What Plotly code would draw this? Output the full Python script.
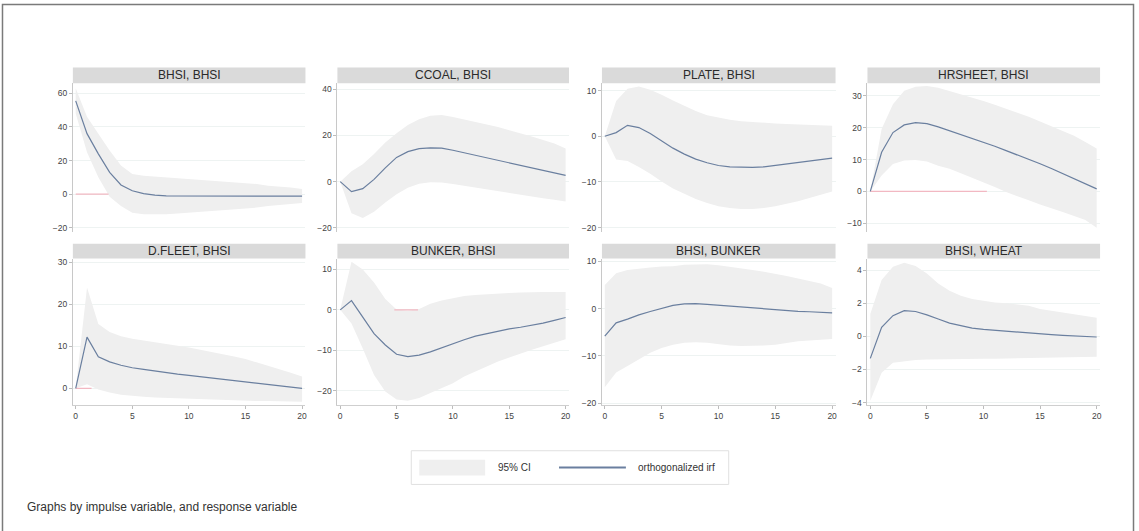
import plotly.graph_objects as go

# Impulse-response functions, horizon 0..20 steps
steps = list(range(21))

panel_titles = [
    "BHSI, BHSI", "CCOAL, BHSI", "PLATE, BHSI", "HRSHEET, BHSI",
    "D.FLEET, BHSI", "BUNKER, BHSI", "BHSI, BUNKER", "BHSI, WHEAT",
]

irf_bhsi_bhsi = [55.5, 36, 24, 13, 5.5, 2, 0.3, -0.6, -1, -1, -1, -0.8, -0.8, -0.9, -1, -1, -1.1, -1.2, -1.2, -1.2, -1.2]
lo_bhsi_bhsi = [48, 25, 10, -1.5, -7, -11, -12, -12, -12, -11.5, -11, -10.5, -10, -9.5, -9, -8.5, -8, -7, -6.5, -6, -5.2]
hi_bhsi_bhsi = [63, 46, 36, 26, 17, 12, 11, 10.5, 10, 9.5, 9, 8.5, 8, 7.5, 7, 6.5, 6, 5, 4.5, 4, 3]

irf_ccoal = [0, -4.3, -3, 1, 6, 10.5, 13, 14.3, 14.6, 14.5, 13.6, 12.5, 11.4, 10.3, 9.2, 8.1, 7.0, 6.0, 4.9, 3.8, 2.7]
lo_ccoal = [0, -13.7, -15.7, -13, -9, -5.4, -2.6, -0.9, -0.2, -0.4, -1, -1.8, -2.6, -3.5, -4.3, -5, -5.8, -6.5, -7.2, -7.8, -8.6]
hi_ccoal = [0, 4.5, 7.5, 12, 17, 21, 24.5, 27, 28.5, 28.8, 28, 27, 26, 25, 23.7, 22.3, 21, 19.5, 18, 16.5, 14.4]

irf_plate = [0, 0.8, 2.4, 1.9, 0.6, -1, -2.6, -3.9, -5, -5.8, -6.4, -6.7, -6.8, -6.8, -6.7, -6.4, -6.1, -5.8, -5.5, -5.1, -4.8]
lo_plate = [0, -5.1, -5.4, -6.7, -8.2, -9.9, -11.4, -12.6, -13.7, -14.6, -15.3, -15.7, -15.9, -15.9, -15.7, -15.3, -14.8, -14.2, -13.5, -12.8, -12.1]
hi_plate = [0, 7.7, 10.4, 10.9, 10.2, 9.1, 7.8, 6.6, 5.5, 4.6, 4.1, 3.6, 3.3, 3.1, 2.9, 2.8, 2.7, 2.6, 2.5, 2.4, 2.3]

irf_hrsheet = [0, 12.3, 18.5, 20.9, 21.6, 21.3, 20.3, 19.1, 17.8, 16.7, 15.4, 14.2, 12.8, 11.5, 10.1, 8.7, 7.2, 5.6, 4.0, 2.4, 0.8]
lo_hrsheet = [0, 5, 8.6, 9.7, 9.9, 9.4, 8.1, 7.1, 5.7, 4.3, 2.9, 1.4, -0.2, -1.6, -2.8, -4.1, -5.2, -6.5, -7.7, -9, -11.4]
hi_hrsheet = [0, 19.6, 27.4, 31.6, 32.9, 33.1, 32.6, 31.6, 30.5, 29.5, 28.4, 27.2, 26, 24.8, 23.5, 22, 20.5, 19, 17.5, 15.5, 13.5]

irf_dfleet = [0, 12.2, 7.5, 6.3, 5.5, 4.9, 4.5, 4.1, 3.8, 3.4, 3.1, 2.8, 2.5, 2.2, 1.9, 1.6, 1.3, 1.0, 0.7, 0.3, 0]
lo_dfleet = [0, 1.0, -0.3, -1.0, -1.5, -1.8, -2.0, -2.2, -2.3, -2.4, -2.5, -2.6, -2.7, -2.8, -2.8, -2.9, -3.0, -3.0, -3.1, -3.1, -3.2]
hi_dfleet = [0, 24, 15.3, 13.4, 12.4, 11.8, 11.4, 11, 10.5, 10.1, 9.7, 9.2, 8.7, 8.2, 7.6, 7, 6.2, 5.4, 4.6, 3.7, 2.8]

irf_bunker = [0, 2.3, -1.8, -5.9, -8.7, -11, -11.6, -11.2, -10.4, -9.4, -8.3, -7.4, -6.5, -5.9, -5.3, -4.7, -4.3, -3.8, -3.3, -2.6, -1.9]
lo_bunker = [0, -3.4, -9.6, -16.1, -20.2, -22.2, -22.5, -21.8, -20.6, -19.4, -18.2, -16.5, -15.2, -14, -12.8, -11.8, -10.8, -9.9, -9.0, -8.2, -7.3]
hi_bunker = [0, 11.9, 10, 6.8, 2.7, 0.1, -0.2, 0.2, 1.5, 2.3, 2.9, 3.4, 3.7, 3.9, 4.1, 4.2, 4.3, 4.4, 4.4, 4.4, 4.4]

irf_bhsi_bunker = [-5.8, -3, -2.2, -1.3, -0.6, 0.1, 0.7, 1.0, 1.05, 0.9, 0.7, 0.5, 0.3, 0.1, -0.1, -0.3, -0.4, -0.55, -0.65, -0.7, -0.9]
lo_bhsi_bunker = [-16.6, -13.5, -12.1, -10.7, -9.3, -8.3, -7.6, -7.2, -7.1, -7.2, -7.5, -7.8, -7.9, -7.9, -7.8, -7.6, -7.2, -6.9, -6.7, -6.5, -6.4]
hi_bhsi_bunker = [5, 7.5, 8.2, 8.5, 8.7, 8.9, 9, 9.3, 9.4, 9.4, 9.2, 8.9, 8.6, 8.2, 7.8, 7.4, 6.9, 6.4, 5.9, 5.3, 4.4]

irf_wheat = [-1.33, 0.55, 1.25, 1.55, 1.5, 1.3, 1.05, 0.8, 0.65, 0.5, 0.42, 0.36, 0.3, 0.24, 0.18, 0.14, 0.1, 0.06, 0.04, 0.02, -0.04]
lo_wheat = [-3.9, -2.2, -1.6, -1.5, -1.43, -1.4, -1.4, -1.39, -1.38, -1.37, -1.36, -1.35, -1.34, -1.33, -1.32, -1.31, -1.3, -1.29, -1.28, -1.26, -1.24]
hi_wheat = [1.35, 3.4, 4.2, 4.45, 4.25, 3.8, 3.2, 2.75, 2.45, 2.25, 2.15, 2.05, 2.0, 1.93, 1.85, 1.65, 1.55, 1.45, 1.35, 1.25, 1.12]

irf_series = [irf_bhsi_bhsi, irf_ccoal, irf_plate, irf_hrsheet, irf_dfleet, irf_bunker, irf_bhsi_bunker, irf_wheat]
ci_lower = [lo_bhsi_bhsi, lo_ccoal, lo_plate, lo_hrsheet, lo_dfleet, lo_bunker, lo_bhsi_bunker, lo_wheat]
ci_upper = [hi_bhsi_bhsi, hi_ccoal, hi_plate, hi_hrsheet, hi_dfleet, hi_bunker, hi_bhsi_bunker, hi_wheat]

# Visible stretch of the zero reference line (start step, end step); None where absent
zero_span = [(0, 2.9), None, None, (0, 10.3), (0, 1.4), (4.8, 6.9), None, None]

y_ticks = [
    [-20, 0, 20, 40, 60], [-20, 0, 20, 40], [-20, -10, 0, 10], [-10, 0, 10, 20, 30],
    [0, 10, 20, 30], [-20, -10, 0, 10], [-20, -10, 0, 10], [-4, -2, 0, 2, 4],
]
y_ranges = [
    [-22.4, 66], [-21.7, 42.6], [-20.9, 11.6], [-12.7, 34],
    [-4.0, 30.9], [-23.6, 12.7], [-20.4, 10.6], [-4.16, 4.7],
]
x_ticks = [0, 5, 10, 15, 20]

W, H = 1139, 531
col_px = [(73, 306), (338, 570), (603, 837), (869, 1102)]
row_px = [(82, 232), (259, 407)]
strip_px = [(66, 82), (244, 259)]

BAND = "#efefef"
LINE = "#6a7f9f"
STRIP = "#dadada"
FONT = "Liberation Sans, Arial, sans-serif"

fig = go.Figure()
layout = {}
shapes = []
annotations = []

for i in range(8):
    r, c = divmod(i, 4)
    n = i + 1
    xa = "x" if n == 1 else f"x{n}"
    ya = "y" if n == 1 else f"y{n}"
    x0p, x1p = col_px[c]
    y0p, y1p = row_px[r]

    fig.add_trace(go.Scatter(x=steps, y=ci_lower[i], mode="lines", line=dict(width=0, color=BAND),
                             showlegend=False, hoverinfo="skip", xaxis=xa, yaxis=ya))
    fig.add_trace(go.Scatter(x=steps, y=ci_upper[i], mode="lines", line=dict(width=0, color=BAND),
                             fill="tonexty", fillcolor=BAND, showlegend=False, xaxis=xa, yaxis=ya))
    if zero_span[i] is not None:
        fig.add_trace(go.Scatter(x=list(zero_span[i]), y=[0, 0], mode="lines",
                                 line=dict(width=1.3, color="#f2b8c2"), showlegend=False,
                                 hoverinfo="skip", xaxis=xa, yaxis=ya))
    fig.add_trace(go.Scatter(x=steps, y=irf_series[i], mode="lines", line=dict(width=1.2, color=LINE),
                             showlegend=False, xaxis=xa, yaxis=ya))

    xkey = "xaxis" if n == 1 else f"xaxis{n}"
    ykey = "yaxis" if n == 1 else f"yaxis{n}"
    bottom = r == 1
    layout[xkey] = dict(
        domain=[x0p / W, x1p / W], anchor=ya, range=[-0.25, 20.3],
        tickvals=x_ticks if bottom else [], showticklabels=bottom,
        ticks="outside" if bottom else "", ticklen=3, tickcolor="#bdbdbd",
        showgrid=False, zeroline=False, showline=bottom, linecolor="#cfcfcf", linewidth=1,
        tickfont=dict(family=FONT, size=8.5, color="#444"),
    )
    layout[ykey] = dict(
        domain=[1 - y1p / H, 1 - y0p / H], anchor=xa, range=y_ranges[i],
        tickvals=y_ticks[i], ticks="outside", ticklen=3, tickcolor="#bdbdbd",
        showgrid=True, gridcolor="#eef3f2", gridwidth=1, zeroline=False,
        showline=True, linecolor="#c8c8c8", linewidth=1,
        tickfont=dict(family=FONT, size=8.5, color="#444"),
    )

    s0, s1 = strip_px[r]
    shapes.append(dict(type="rect", xref="paper", yref="paper",
                       x0=x0p / W, x1=x1p / W, y0=1 - s1 / H, y1=1 - s0 / H,
                       fillcolor=STRIP, line=dict(width=0), layer="below"))
    annotations.append(dict(text=panel_titles[i], xref="paper", yref="paper",
                            x=(x0p + x1p) / 2 / W, y=1 - (s0 + s1) / 2 / H,
                            xanchor="center", yanchor="middle", showarrow=False,
                            font=dict(family=FONT, size=12, color="#2a2a2a")))

# Legend box drawn by hand
shapes += [
    dict(type="rect", xref="paper", yref="paper", x0=412 / W, x1=730 / W, y0=1 - 487 / H, y1=1 - 453 / H,
         fillcolor="white", line=dict(color="#e0e0e0", width=1)),
    dict(type="rect", xref="paper", yref="paper", x0=420 / W, x1=486 / W, y0=1 - 478 / H, y1=1 - 462 / H,
         fillcolor=BAND, line=dict(width=0)),
    dict(type="line", xref="paper", yref="paper", x0=560 / W, x1=627 / W, y0=1 - 470 / H, y1=1 - 470 / H,
         line=dict(color=LINE, width=2)),
    # outer frame
    dict(type="rect", xref="paper", yref="paper", x0=2.5 / W, x1=1135.5 / W, y0=-0.05, y1=1 - 2.5 / H,
         fillcolor="rgba(0,0,0,0)", line=dict(color="#7a7a7a", width=1.5)),
]
annotations += [
    dict(text="95% CI", xref="paper", yref="paper", x=497 / W, y=1 - 470 / H, xanchor="left",
         yanchor="middle", showarrow=False, font=dict(family=FONT, size=10, color="#333")),
    dict(text="orthogonalized irf", xref="paper", yref="paper", x=637 / W, y=1 - 470 / H, xanchor="left",
         yanchor="middle", showarrow=False, font=dict(family=FONT, size=10, color="#333")),
    dict(text="Graphs by impulse variable, and response variable", xref="paper", yref="paper",
         x=25 / W, y=1 - 510 / H, xanchor="left", yanchor="middle", showarrow=False,
         font=dict(family=FONT, size=12, color="#333")),
]

fig.update_layout(
    width=W, height=H, margin=dict(l=0, r=0, t=0, b=0),
    paper_bgcolor="white", plot_bgcolor="white",
    showlegend=False, shapes=shapes, annotations=annotations, **layout,
)

fig.write_html("out.html")
